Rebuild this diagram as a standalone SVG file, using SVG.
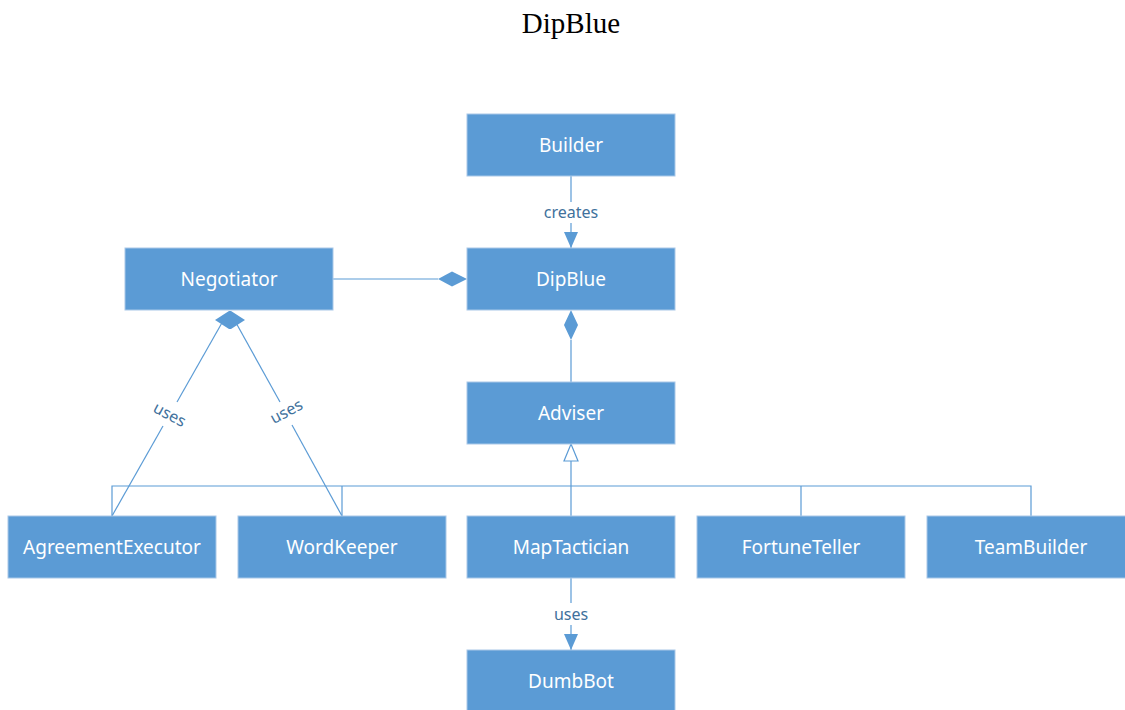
<svg xmlns="http://www.w3.org/2000/svg" width="1125" height="710" viewBox="0 0 1125 710">
<style>
.box{fill:#5B9BD5;stroke:#A9C8E8;stroke-width:1}
.lbl{font-family:"Noto Sans",sans-serif;font-size:19px;fill:#fff;text-anchor:middle;dominant-baseline:central}
.ln{stroke:#5B9BD5;stroke-width:1.2;fill:none}
.el{font-family:"Noto Sans",sans-serif;font-size:16px;fill:#41719C;text-anchor:middle;dominant-baseline:central}
.title{font-family:"Liberation Serif",serif;font-size:29px;fill:#000;text-anchor:middle}
</style>
<defs>
<marker id="arr" markerWidth="16" markerHeight="16" refX="16" refY="8" orient="auto" markerUnits="userSpaceOnUse"><path d="M0,1 L16,8 L0,15 Z" fill="#5B9BD5"/></marker>
</defs>
<text class="title" x="571" y="33">DipBlue</text>
<g id="connectors">
<line class="ln" x1="571" y1="176" x2="571" y2="202"/>
<line class="ln" x1="571" y1="223" x2="571" y2="248" marker-end="url(#arr)"/>
<text class="el" x="571" y="212">creates</text>
<line class="ln" x1="333" y1="279" x2="438" y2="279"/>
<path d="M438,279 L452,271.5 L467,279 L452,286.5 Z" fill="#5B9BD5"/>
<line class="ln" x1="571" y1="340" x2="571" y2="382"/>
<path d="M571,310 L578,325 L571,340 L564,325 Z" fill="#5B9BD5"/>
<path d="M571,444 L578,461 L564,461 Z" fill="#fff" stroke="#5B9BD5" stroke-width="1.2"/>
<line class="ln" x1="571" y1="461" x2="571" y2="516"/>
<polyline class="ln" points="112,516 112,486 1031,486 1031,516"/>
<line class="ln" x1="342" y1="486" x2="342" y2="516"/>
<line class="ln" x1="801" y1="486" x2="801" y2="516"/>
<line class="ln" x1="112" y1="516" x2="163" y2="426"/>
<line class="ln" x1="177" y1="402" x2="223" y2="321"/>
<line class="ln" x1="342" y1="516" x2="292" y2="425"/>
<line class="ln" x1="280" y1="402" x2="235" y2="321"/>
<path d="M229,311 L215,320 L229,329 Z" fill="#5B9BD5"/>
<path d="M231,311 L245,320 L231,329 Z" fill="#5B9BD5"/>
<path d="M229,311 L231,311 L231,329 L229,329 Z" fill="#5B9BD5"/>
<text class="el" x="170" y="414" transform="rotate(28 170 414)">uses</text>
<text class="el" x="286" y="411" transform="rotate(-28 286 411)">uses</text>
<line class="ln" x1="571" y1="578" x2="571" y2="603"/>
<line class="ln" x1="571" y1="625" x2="571" y2="650" marker-end="url(#arr)"/>
<text class="el" x="571" y="614">uses</text>
</g>
<g id="Builder"><rect class="box" x="467" y="114" width="208" height="62"/><text class="lbl" x="571" y="145">Builder</text></g>
<g id="DipBlue"><rect class="box" x="467" y="248" width="208" height="62"/><text class="lbl" x="571" y="279">DipBlue</text></g>
<g id="Negotiator"><rect class="box" x="125" y="248" width="208" height="62"/><text class="lbl" x="229" y="279">Negotiator</text></g>
<g id="Adviser"><rect class="box" x="467" y="382" width="208" height="62"/><text class="lbl" x="571" y="413">Adviser</text></g>
<g id="AgreementExecutor"><rect class="box" x="8" y="516" width="208" height="62"/><text class="lbl" x="112" y="547">AgreementExecutor</text></g>
<g id="WordKeeper"><rect class="box" x="238" y="516" width="208" height="62"/><text class="lbl" x="342" y="547">WordKeeper</text></g>
<g id="MapTactician"><rect class="box" x="467" y="516" width="208" height="62"/><text class="lbl" x="571" y="547">MapTactician</text></g>
<g id="FortuneTeller"><rect class="box" x="697" y="516" width="208" height="62"/><text class="lbl" x="801" y="547">FortuneTeller</text></g>
<g id="TeamBuilder"><rect class="box" x="927" y="516" width="208" height="62"/><text class="lbl" x="1031" y="547">TeamBuilder</text></g>
<g id="DumbBot"><rect class="box" x="467" y="650" width="208" height="62"/><text class="lbl" x="571" y="681">DumbBot</text></g>
</svg>
